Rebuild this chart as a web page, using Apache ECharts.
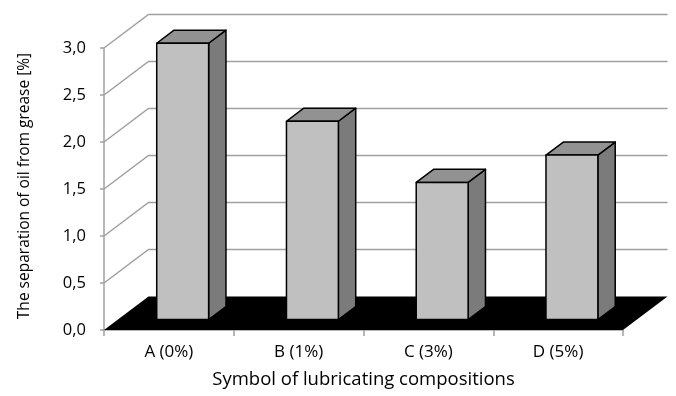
<!DOCTYPE html>
<html>
<head>
<meta charset="utf-8">
<script src="https://cdn.jsdelivr.net/npm/echarts@6/dist/echarts.min.js"></script>
<style>html,body{margin:0;padding:0;background:#fff}#c{width:676px;height:396px}</style>
</head>
<body>
<div id="c"></div>
<script>
const categories = ['A (0%)', 'B (1%)', 'C (3%)', 'D (5%)'];
const values = [2.94, 2.11, 1.46, 1.75];
const yTicks = [0.5, 1.0, 1.5, 2.0, 2.5, 3.0];
const yTitle = 'The separation of oil from grease [%]';
const xTitle = 'Symbol of lubricating compositions';

const DX = 44.5, DY = -33.5;       // depth vector of the 3D box
const F1 = 0.31, F2 = 0.70;        // bar front / back depth fractions
const FONT = 'Open Sans';

const chart = echarts.init(document.getElementById('c'));

function wallItem(params, api) {
  const cs = params.coordSys;
  const v = api.value(0);
  const y = api.coord([0, v])[1];
  const x0 = cs.x, x1 = cs.x + cs.width;
  return {
    type: 'polyline',
    shape: { points: [[x0, y], [x0 + DX, y + DY], [x1 + DX, y + DY]] },
    style: { stroke: '#a0a0a0', lineWidth: 1.5, fill: null },
    silent: true
  };
}

function floorItem(params, api) {
  const cs = params.coordSys;
  const y0 = api.coord([0, 0])[1];
  const x0 = cs.x, x1 = cs.x + cs.width;
  return {
    type: 'polygon',
    shape: { points: [[x0, y0], [x1, y0], [x1 + DX, y0 + DY], [x0 + DX, y0 + DY]] },
    style: { fill: '#000' },
    silent: true
  };
}

function barItem(params, api) {
  const idx = api.value(0);
  const val = api.value(1);
  const base = api.coord([idx, 0]);
  const topY = api.coord([idx, val])[1];
  const w = api.size([1, 0])[0] * 0.4;
  const cx = base[0];
  const xl1 = cx - w / 2 + F1 * DX, xr1 = cx + w / 2 + F1 * DX;
  const yb1 = base[1] + F1 * DY, yt1 = topY + F1 * DY;
  const ddx = (F2 - F1) * DX, ddy = (F2 - F1) * DY;
  const line = { stroke: '#000', lineWidth: 1.5, lineJoin: 'round' };
  return {
    type: 'group',
    children: [
      { type: 'polygon', shape: { points: [[xr1, yb1], [xr1, yt1], [xr1 + ddx, yt1 + ddy], [xr1 + ddx, yb1 + ddy]] },
        style: Object.assign({ fill: '#7b7b7b' }, line) },
      { type: 'polygon', shape: { points: [[xl1, yt1], [xr1, yt1], [xr1 + ddx, yt1 + ddy], [xl1 + ddx, yt1 + ddy]] },
        style: Object.assign({ fill: '#929292' }, line) },
      { type: 'rect', shape: { x: xl1, y: yt1, width: xr1 - xl1, height: yb1 - yt1 },
        style: Object.assign({ fill: '#c0c0c0' }, line) }
    ]
  };
}

chart.setOption({
  animation: false,
  backgroundColor: '#fff',
  grid: { left: 104, right: 53, top: 48, bottom: 66, containLabel: false },
  xAxis: {
    type: 'category',
    data: categories,
    axisLine: { lineStyle: { color: '#a0a0a0', width: 1.5 } },
    axisTick: { show: true, length: 6, lineStyle: { color: '#a0a0a0', width: 1.5 } },
    axisLabel: { color: '#000', fontFamily: FONT, fontSize: 17, margin: 14 },
    name: xTitle,
    nameLocation: 'middle',
    nameGap: 40,
    nameTextStyle: { color: '#000', fontFamily: FONT, fontSize: 18.5 },
    splitLine: { show: false }
  },
  yAxis: {
    type: 'value',
    min: 0, max: 3, interval: 0.5,
    axisLine: { show: true, lineStyle: { color: '#a0a0a0', width: 1.5 } },
    axisTick: { show: true, length: 4, lineStyle: { color: '#a0a0a0', width: 1.5 } },
    axisLabel: { color: '#000', fontFamily: FONT, fontSize: 16.5, margin: 18,
      formatter: v => v.toFixed(1).replace('.', ',') },
    splitLine: { show: false },
    name: yTitle,
    nameLocation: 'middle',
    nameRotate: 90,
    nameGap: 71,
    nameTextStyle: { color: '#000', fontFamily: FONT, fontSize: 15.5, padding: [0, 0, 0, 6] }
  },
  series: [
    { type: 'custom', renderItem: wallItem, data: yTicks.map(v => [v]), z: 1, silent: true },
    { type: 'custom', renderItem: floorItem, data: [[0]], z: 2, silent: true },
    { type: 'custom', renderItem: barItem, data: values.map((v, i) => [i, v]), z: 3 }
  ]
});
</script>
</body>
</html>
